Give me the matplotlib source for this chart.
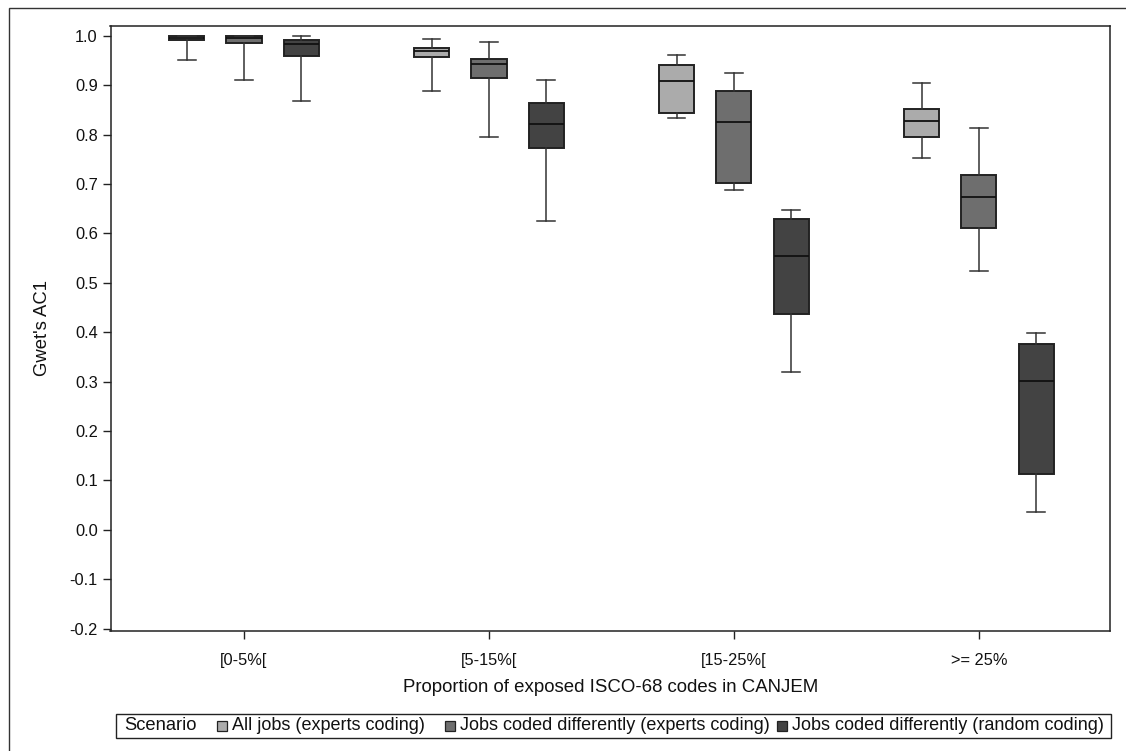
import matplotlib
matplotlib.use("Agg")
import matplotlib.pyplot as plt
from matplotlib.patches import Rectangle

plt.rcParams['font.family'] = ['Liberation Sans', 'DejaVu Sans']

categories = ["[0-5%[", "[5-15%[", "[15-25%[", ">= 25%"]
scenarios = ["All jobs (experts coding)",
             "Jobs coded differently (experts coding)",
             "Jobs coded differently (random coding)"]
colors = ["#ababab", "#6e6e6e", "#434343"]

# five-number summaries per scenario, one value per category
all_whislo = [0.952, 0.889, 0.833, 0.753]
all_q1     = [0.991, 0.957, 0.843, 0.796]
all_med    = [0.996, 0.970, 0.909, 0.828]
all_q3     = [0.999, 0.976, 0.941, 0.852]
all_whishi = [1.000, 0.993, 0.961, 0.904]

exp_whislo = [0.910, 0.796, 0.687, 0.523]
exp_q1     = [0.986, 0.914, 0.702, 0.610]
exp_med    = [0.995, 0.943, 0.826, 0.673]
exp_q3     = [0.999, 0.954, 0.889, 0.719]
exp_whishi = [1.000, 0.988, 0.924, 0.813]

rnd_whislo = [0.869, 0.625, 0.320, 0.035]
rnd_q1     = [0.959, 0.773, 0.437, 0.113]
rnd_med    = [0.984, 0.821, 0.555, 0.301]
rnd_q3     = [0.992, 0.864, 0.629, 0.376]
rnd_whishi = [1.000, 0.910, 0.648, 0.398]

series = [
    (all_whislo, all_q1, all_med, all_q3, all_whishi),
    (exp_whislo, exp_q1, exp_med, exp_q3, exp_whishi),
    (rnd_whislo, rnd_q1, rnd_med, rnd_q3, rnd_whishi),
]

W, H = 1126, 751
fig = plt.figure(figsize=(W / 100, H / 100), dpi=100)
ax = fig.add_axes([110.5 / W, 1 - 631 / H, (1110 - 110.5) / W, (631 - 26) / H])

offsets = [-0.233, 0.0, 0.233]
for si, (lo, q1, med, q3, hi) in enumerate(series):
    stats = []
    for ci in range(len(categories)):
        stats.append(dict(whislo=lo[ci], q1=q1[ci], med=med[ci], q3=q3[ci], whishi=hi[ci], fliers=[]))
    pos = [ci + offsets[si] for ci in range(len(categories))]
    ax.bxp(stats, positions=pos, widths=0.143, capwidths=0.07, patch_artist=True,
           showfliers=False, manage_ticks=False,
           boxprops=dict(facecolor=colors[si], edgecolor="#222222", linewidth=1.4),
           medianprops=dict(color="#111111", linewidth=1.3),
           whiskerprops=dict(color="#333333", linewidth=1.1),
           capprops=dict(color="#333333", linewidth=1.1))

ax.set_xlim(-0.545, 3.535)
ax.set_ylim(-0.205, 1.02)
ax.set_xticks(range(len(categories)))
ax.set_xticklabels(categories)
yt = [round(-0.2 + 0.1 * i, 1) for i in range(13)]
ax.set_yticks(yt)
ax.set_yticklabels([f"{v:.1f}" for v in yt])
ax.tick_params(axis='both', direction='out', length=5.5, width=1, colors='#222222',
               labelsize=11.8, labelcolor='#111111')
ax.tick_params(axis='y', pad=3.6)
ax.tick_params(axis='x', pad=10.5)
for s in ax.spines.values():
    s.set_linewidth(1.1)
    s.set_color('#222222')
ax.set_ylabel("Gwet's AC1", fontsize=13.3, color='#111111', labelpad=13)
ax.set_xlabel("Proportion of exposed ISCO-68 codes in CANJEM", fontsize=13.4, color='#111111', labelpad=8)

# outer frame
fig.patches.append(Rectangle((9 / W, -0.1), 1.2, (H - 8) / H + 0.1, transform=fig.transFigure,
                             fill=False, edgecolor='#333333', linewidth=1.0))

# legend box
fig.patches.append(Rectangle((116 / W, 1 - 738 / H), (1111 - 116) / W, 24 / H,
                             transform=fig.transFigure, fill=False, edgecolor='#222222', linewidth=1.0))
ly = 1 - 726 / H
fig.text(124 / W, ly, "Scenario", fontsize=13.2, va='center', ha='left', color='#111111')
sq_x = [217, 445, 777]
for si in range(3):
    fig.patches.append(Rectangle((sq_x[si] / W, 1 - 731 / H), 10 / W, 10 / H,
                                 transform=fig.transFigure, facecolor=colors[si],
                                 edgecolor='#222222', linewidth=0.9))
    fig.text((sq_x[si] + 15) / W, ly, scenarios[si], fontsize=13.0, va='center', ha='left', color='#111111')

fig.savefig("out.png", dpi=100)
